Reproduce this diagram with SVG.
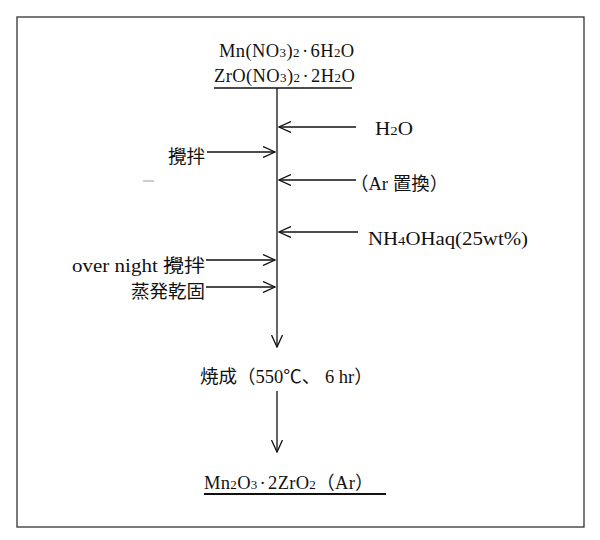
<svg xmlns="http://www.w3.org/2000/svg" width="600" height="540" viewBox="0 0 600 540">
<style>
text{font-family:"Liberation Serif","Noto Sans CJK JP",serif;font-size:18.5px;fill:#111}
.s{font-size:13px}
.ln{stroke:#111;stroke-width:1.3;fill:none}
.ah{stroke:#111;stroke-width:1.3;fill:none}
</style>
<defs>
<marker id="arr" viewBox="0 0 13 12" refX="12" refY="6" markerWidth="13" markerHeight="12" markerUnits="userSpaceOnUse" orient="auto">
<path d="M0,0.5 L12,6 L0,11.5" class="ah"/>
</marker>
</defs>
<rect x="0" y="0" width="600" height="540" fill="#fff"/>
<rect x="17" y="17" width="567" height="510" fill="none" stroke="#222" stroke-width="1.2"/>
<line x1="143" y1="181" x2="154" y2="181" stroke="#999" stroke-width="1"/>

<g id="connectors">
<line class="ln" x1="277" y1="88" x2="277" y2="347" marker-end="url(#arr)"/>
<line class="ln" x1="277" y1="391" x2="277" y2="452" marker-end="url(#arr)"/>
<line class="ln" x1="356" y1="127" x2="279" y2="127" marker-end="url(#arr)"/>
<line class="ln" x1="356" y1="180" x2="279" y2="180" marker-end="url(#arr)"/>
<line class="ln" x1="358" y1="232" x2="279" y2="232" marker-end="url(#arr)"/>
<line class="ln" x1="207" y1="152" x2="275" y2="152" marker-end="url(#arr)"/>
<line class="ln" x1="206" y1="260" x2="275" y2="260" marker-end="url(#arr)"/>
<line class="ln" x1="206" y1="287" x2="275" y2="287" marker-end="url(#arr)"/>
</g>

<g id="start">
<text x="219" y="57" letter-spacing="0.4">Mn(NO<tspan class="s">3</tspan>)<tspan class="s">2</tspan><tspan dx="2">·</tspan><tspan dx="2">6H</tspan><tspan class="s">2</tspan>O</text>
<text x="214" y="82" letter-spacing="0.4">ZrO(NO<tspan class="s">3</tspan>)<tspan class="s">2</tspan><tspan dx="2">·</tspan><tspan dx="2">2H</tspan><tspan class="s">2</tspan>O</text>
<line x1="214" y1="88" x2="352" y2="88" stroke="#111" stroke-width="1.3"/>
</g>
<g id="h2o"><text x="375" y="135" textLength="38" lengthAdjust="spacingAndGlyphs">H<tspan class="s">2</tspan>O</text></g>
<g id="ar"><text x="350" y="190">（Ar 置換）</text></g>
<g id="nh4oh"><text x="368" y="245" textLength="160" lengthAdjust="spacingAndGlyphs">NH<tspan class="s">4</tspan>OHaq(25wt%)</text></g>
<g id="stir1"><text x="168" y="163">攪拌</text></g>
<g id="stir2"><text x="72" y="272" textLength="133" lengthAdjust="spacingAndGlyphs">over night 攪拌</text></g>
<g id="evap"><text x="131" y="298">蒸発乾固</text></g>
<g id="calcine"><text x="200" y="383">焼成（550℃、 6 hr）</text></g>
<g id="product">
<text x="204" y="489" letter-spacing="0.3">Mn<tspan class="s">2</tspan>O<tspan class="s">3</tspan><tspan dx="2">·</tspan><tspan dx="2">2ZrO</tspan><tspan class="s">2</tspan>（Ar）</text>
<line x1="204" y1="494" x2="386" y2="494" stroke="#111" stroke-width="1.8"/>
</g>
</svg>
